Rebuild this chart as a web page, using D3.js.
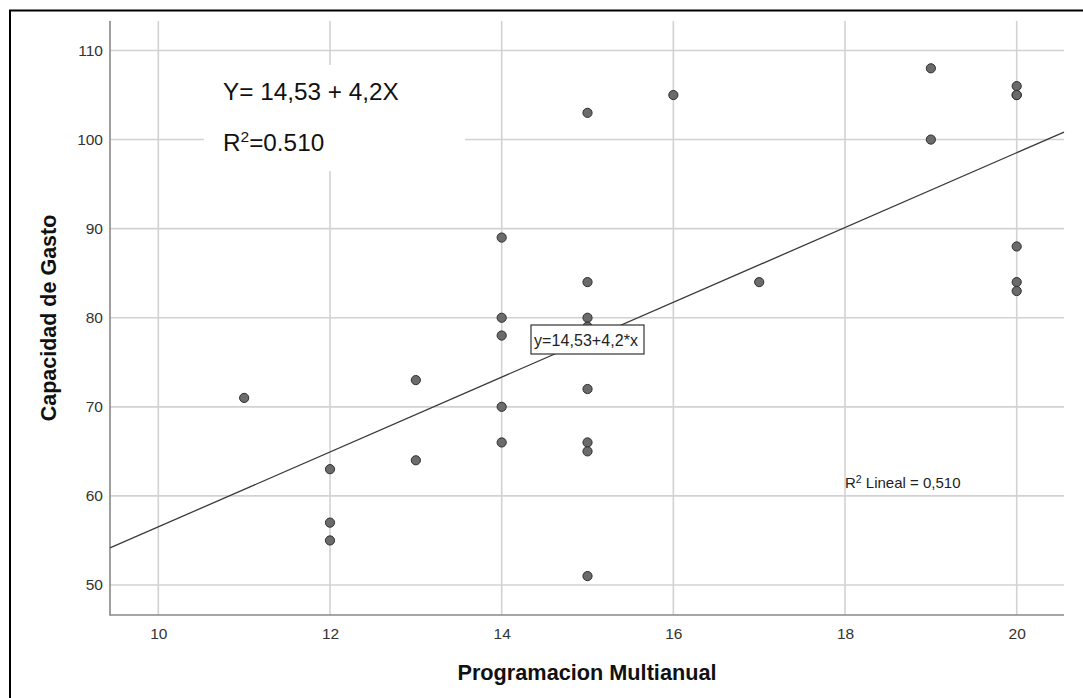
<!DOCTYPE html>
<html>
<head>
<meta charset="utf-8">
<script src="https://cdn.jsdelivr.net/npm/d3@7"></script>
<style>
  html, body { margin: 0; padding: 0; background: #fff; }
  svg { display: block; font-family: "Liberation Sans", Arial, sans-serif; }
</style>
</head>
<body>
<svg id="chart" width="1083" height="698"></svg>
<script>
// ---- data ----
const xValues = [11, 12, 12, 12, 13, 13, 14, 14, 14, 14, 14, 15, 15, 15, 15, 15, 15, 15, 15, 16, 17, 19, 19, 20, 20, 20, 20, 20, 20];
const yValues = [71, 63, 57, 55, 73, 64, 89, 80, 78, 70, 66, 103, 84, 80, 79, 72, 66, 65, 51, 105, 84, 108, 100, 106, 105, 105, 88, 84, 83];
const xTicks = [10, 12, 14, 16, 18, 20];
const yTicks = [50, 60, 70, 80, 90, 100, 110];
const intercept = 14.53;
const slope = 4.2;
const xTitle = "Programacion Multianual";
const yTitle = "Capacidad de Gasto";
const fitLabel = "y=14,53+4,2*x";
const r2Label = "Lineal = 0,510";
const eqText = "Y= 14,53 + 4,2X";
const r2Text = "=0.510";

// ---- layout ----
const svg = d3.select("#chart");
const pLeft = 110, pRight = 1064, pTop = 21, pBottom = 615;

const x = d3.scaleLinear().domain([9.437, 20.551]).range([pLeft, pRight]);
const y = d3.scaleLinear().domain([46.632, 113.31]).range([pBottom, pTop]);

// outer border (left & top visible)
svg.append("rect").attr("x", 10).attr("y", 10.5).attr("width", 1100).attr("height", 720)
  .attr("fill", "none").attr("stroke", "#000").attr("stroke-width", 2);

// grid
const grid = svg.append("g");
grid.selectAll("line.v").data(xTicks).join("line").attr("class", "v")
  .attr("x1", d => x(d)).attr("x2", d => x(d)).attr("y1", pTop).attr("y2", pBottom)
  .attr("stroke", "#d2d2d2").attr("stroke-width", 1.6);
grid.selectAll("line.h").data(yTicks).join("line").attr("class", "h")
  .attr("x1", pLeft).attr("x2", pRight).attr("y1", d => y(d)).attr("y2", d => y(d))
  .attr("stroke", "#d2d2d2").attr("stroke-width", 1.6);

// white annotation box
svg.append("rect").attr("x", 204).attr("y", 65).attr("width", 261).attr("height", 106).attr("fill", "#fff");

// axes
const xAxis = d3.axisBottom(x).tickValues(xTicks).tickSize(0).tickPadding(13).tickFormat(d3.format("d"));
const yAxis = d3.axisLeft(y).tickValues(yTicks).tickSize(0).tickPadding(7).tickFormat(d3.format("d"));
const gx = svg.append("g").attr("transform", `translate(0,${pBottom})`).call(xAxis);
const gy = svg.append("g").attr("transform", `translate(${pLeft},0)`).call(yAxis);
[gx, gy].forEach(g => {
  g.select(".domain").remove();
  g.selectAll("text").attr("font-size", 15.5).attr("fill", "#333")
    .attr("font-family", "'Liberation Sans', Arial, sans-serif");
});
gx.selectAll("text").attr("dy", "0.71em");
svg.append("line").attr("x1", pLeft).attr("x2", pLeft).attr("y1", pTop).attr("y2", pBottom + 0.8)
  .attr("stroke", "#888").attr("stroke-width", 1.6);
svg.append("line").attr("x1", pLeft).attr("x2", pRight).attr("y1", pBottom).attr("y2", pBottom)
  .attr("stroke", "#888").attr("stroke-width", 1.6);

// regression line
const xd = x.domain();
svg.append("line")
  .attr("x1", x(xd[0])).attr("y1", y(intercept + slope * xd[0]))
  .attr("x2", x(xd[1])).attr("y2", y(intercept + slope * xd[1]))
  .attr("stroke", "#3a3a3a").attr("stroke-width", 1.3);

// points
const pts = xValues.map((v, i) => ({x: v, y: yValues[i]}));
svg.append("g").selectAll("circle").data(pts).join("circle")
  .attr("cx", d => x(d.x)).attr("cy", d => y(d.y)).attr("r", 4.6)
  .attr("fill", "#6b6b6b").attr("stroke", "#2e2e2e").attr("stroke-width", 1);

// fit label box
svg.append("rect").attr("x", 531).attr("y", 325).attr("width", 113).attr("height", 29)
  .attr("fill", "#fff").attr("stroke", "#333").attr("stroke-width", 1.2);
svg.append("text").attr("x", 534).attr("y", 345.5).attr("font-size", 16).attr("fill", "#222")
  .attr("textLength", 104).text(fitLabel);

// R2 lineal label
const r2 = svg.append("text").attr("x", 845).attr("y", 488).attr("font-size", 15).attr("fill", "#222");
r2.append("tspan").text("R");
r2.append("tspan").attr("font-size", 10.5).attr("dy", -5).text("2");
r2.append("tspan").attr("dy", 5).text(" " + r2Label);

// equation annotation
svg.append("text").attr("x", 223).attr("y", 100).attr("font-size", 24.3).attr("fill", "#111").text(eqText);
const r2t = svg.append("text").attr("x", 223).attr("y", 151).attr("font-size", 24.3).attr("fill", "#111");
r2t.append("tspan").text("R");
r2t.append("tspan").attr("font-size", 15.5).attr("dy", -9).text("2");
r2t.append("tspan").attr("dy", 9).text(r2Text);

// axis titles
svg.append("text").attr("x", (pLeft + pRight) / 2).attr("y", 680).attr("text-anchor", "middle")
  .attr("font-size", 21.7).attr("font-weight", "bold").attr("fill", "#111").text(xTitle);
svg.append("text").attr("transform", `translate(56,${(pTop + pBottom) / 2}) rotate(-90)`)
  .attr("text-anchor", "middle").attr("font-size", 21.5).attr("font-weight", "bold")
  .attr("fill", "#111").text(yTitle);
</script>
</body>
</html>
